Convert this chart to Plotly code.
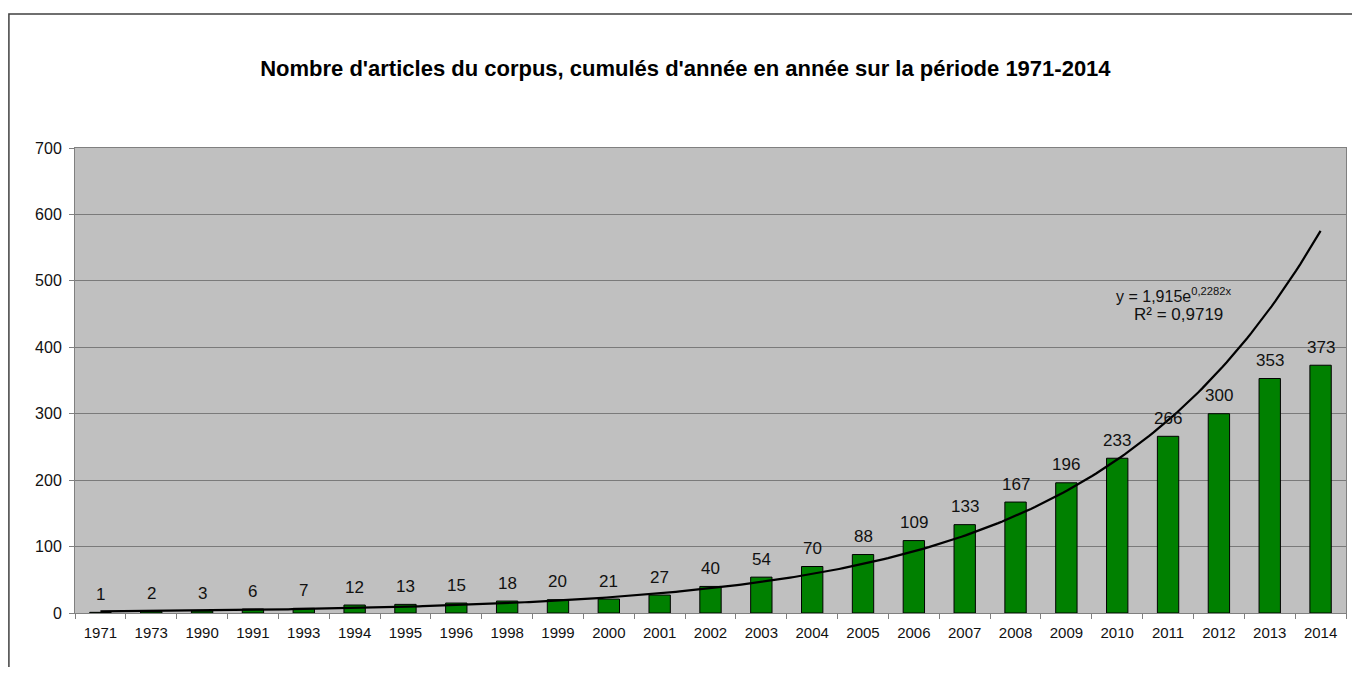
import numpy as np
import plotly.graph_objects as go

# Données
annees = ['1971', '1973', '1990', '1991', '1993', '1994', '1995', '1996', '1998', '1999',
          '2000', '2001', '2002', '2003', '2004', '2005', '2006', '2007', '2008', '2009',
          '2010', '2011', '2012', '2013', '2014']
cumul = [1, 2, 3, 6, 7, 12, 13, 15, 18, 20, 21, 27, 40, 54, 70, 88, 109, 133, 167, 196,
         233, 266, 300, 353, 373]

# Courbe de tendance exponentielle (coefficients affichés sur le graphique)
coef_a = 1.915
coef_b = 0.2282
y_ticks = [0, 100, 200, 300, 400, 500, 600, 700]

FONT = "Liberation Sans, Arial, sans-serif"

x_trend = np.linspace(1, len(annees), 300)
y_trend = coef_a * np.exp(coef_b * x_trend)

fig = go.Figure()
fig.add_trace(go.Bar(
    x=annees, y=cumul,
    marker=dict(color='#008000', line=dict(color='#000000', width=1)),
    showlegend=False,
))
fig.add_trace(go.Scatter(
    x=x_trend, y=y_trend, xaxis='x2',
    mode='lines', line=dict(color='#000000', width=2.2),
    showlegend=False, hoverinfo='skip',
))

# étiquettes de données au-dessus des barres (axe x2 : barre i au rang i+1)
etiquettes = [
    dict(text=str(v), x=i + 1, y=v, xref='x2', yref='y', yanchor='middle',
         yshift=18, showarrow=False,
         font=dict(family=FONT, size=17, color='#111111'))
    for i, v in enumerate(cumul)
]

# la page html ajoute une marge de 8 px autour de la figure
fig.update_layout(
    width=1344, height=659,
    margin=dict(l=67, r=6, t=140, b=54),
    paper_bgcolor='white',
    plot_bgcolor='#c0c0c0',
    bargap=0.58,
    font=dict(family=FONT, size=15, color='#111111'),
    title=dict(
        text="<b>Nombre d'articles du corpus, cumulés d'année en année sur la période 1971-2014</b>",
        x=0.504, xanchor='center', y=0.908, yanchor='middle',
        font=dict(family=FONT, size=22, color='#000000'),
    ),
    xaxis=dict(
        type='category', tickson='boundaries', ticks='outside', ticklen=5,
        tickcolor='#808080', showgrid=False, ticklabelstandoff=6,
        showline=True, linecolor='#808080', linewidth=1, mirror=True,
        tickfont=dict(family=FONT, size=15, color='#111111'),
    ),
    xaxis2=dict(
        overlaying='x', range=[0.5, len(annees) + 0.5], visible=False,
    ),
    yaxis=dict(
        range=[0, 700], tickvals=y_ticks, ticks='outside', ticklen=5,
        tickcolor='#808080', showgrid=True, gridcolor='#7a7a7a', gridwidth=1,
        showline=True, linecolor='#808080', linewidth=1, mirror=True,
        zeroline=False, ticklabelstandoff=4,
        tickfont=dict(family=FONT, size=16, color='#111111'),
    ),
    annotations=etiquettes + [
        dict(text='y = 1,915e<sup>0,2282x</sup>', xref='x2', yref='y',
             x=22.1, y=478, showarrow=False,
             font=dict(family=FONT, size=16, color='#111111')),
        dict(text='R² = 0,9719', xref='x2', yref='y',
             x=22.2, y=449, showarrow=False,
             font=dict(family=FONT, size=17, color='#111111')),
    ],
    shapes=[
        dict(type='rect', xref='paper', yref='paper',
             x0=-0.052, x1=1.03, y0=-0.2, y1=1.288,
             line=dict(color='#404040', width=1.5), fillcolor='rgba(0,0,0,0)',
             layer='below'),
    ],
)

fig.write_html("out.html")
